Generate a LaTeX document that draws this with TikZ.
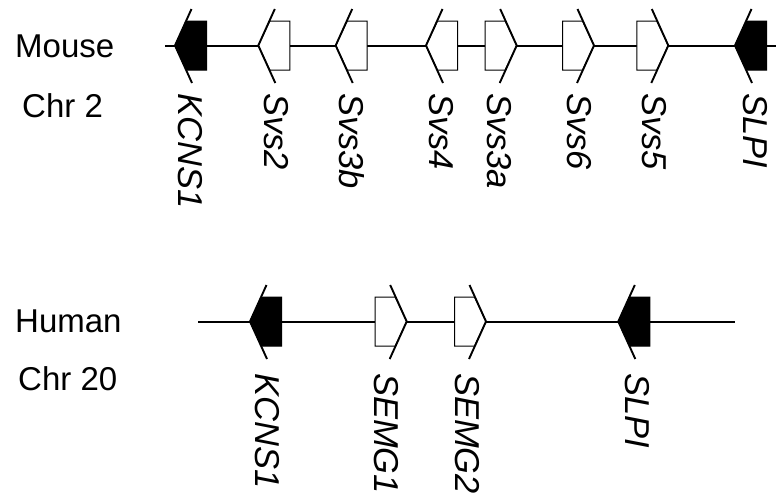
\documentclass[tikz,border=0pt]{standalone}
\usepackage{fontspec}
\setmainfont{Liberation Sans}
\newcommand\GeneL[4]{% name, tip x, centre y, fill
  \filldraw[genebox, fill=#4] (#2,#3) -- (#2+11.5,#3-24.5) -- (#2+31.5,#3-24.5) -- (#2+31.5,#3+24.5) -- (#2+11.5,#3+24.5) -- cycle;
  \draw[slash] (#2+16.5,#3-36.5) -- (#2,#3) -- (#2+17,#3+37.5);
  \coordinate (#1) at (#2+15.75,#3);
}
\newcommand\GeneR[4]{% name, tip x, centre y, fill
  \filldraw[genebox, fill=#4] (#2,#3) -- (#2-11.5,#3-24.5) -- (#2-31.5,#3-24.5) -- (#2-31.5,#3+24.5) -- (#2-11.5,#3+24.5) -- cycle;
  \draw[slash] (#2-16.5,#3-36.5) -- (#2,#3) -- (#2-17,#3+37.5);
  \coordinate (#1) at (#2-15.75,#3);
}
\begin{document}
\begin{tikzpicture}[x=1pt,y=-1pt,
  chrom/.style={line width=2pt},
  slash/.style={line width=1.9pt},
  genebox/.style={draw=black,line width=1pt},
  species/.style={inner sep=0pt,anchor=base west,font=\fontsize{33}{40}\selectfont},
  genelabel/.style={inner sep=0pt,anchor=base west,rotate=-90,font=\fontsize{34.5}{40}\selectfont\itshape}]
\useasboundingbox (0,0) rectangle (776,493);
% species labels
\node[species] (mouse) at (15,57) {Mouse};
\node[species] (chr2) at (22,117) {Chr 2};
\node[species] (human) at (15,332) {Human};
\node[species] (chr20) at (18,390.5) {Chr 20};
% mouse chromosome
\coordinate (mL) at (165,45.5);
\coordinate (mR) at (776,45.5);
\draw[chrom] (mL) -- (mR);
\GeneL{mKCNS1}{175}{45.5}{black}
\GeneL{mSvs2}{258.3}{45.5}{white}
\GeneL{mSvs3b}{335.7}{45.5}{white}
\GeneL{mSvs4}{426}{45.5}{white}
\GeneR{mSvs3a}{516.7}{45.5}{white}
\GeneR{mSvs6}{594}{45.5}{white}
\GeneR{mSvs5}{668.3}{45.5}{white}
\GeneL{mSLPI}{735}{45.5}{black}
\node[genelabel] (lKCNS1) at (178,93) {KCNS1};
\node[genelabel] (lSvs2) at (264.5,93) {Svs2};
\node[genelabel] (lSvs3b) at (339.5,93) {Svs3b};
\node[genelabel] (lSvs4) at (429.5,93) {Svs4};
\node[genelabel] (lSvs3a) at (487.5,93) {Svs3a};
\node[genelabel] (lSvs6) at (567.5,93) {Svs6};
\node[genelabel] (lSvs5) at (642.5,93) {Svs5};
\node[genelabel] (lSLPI) at (743.5,93) {SLPI};
% human chromosome
\coordinate (hL) at (198.3,321.7);
\coordinate (hR) at (735,321.7);
\draw[chrom] (hL) -- (hR);
\GeneL{hKCNS1}{250}{321.5}{black}
\GeneR{hSEMG1}{406.7}{321.5}{white}
\GeneR{hSEMG2}{486}{321.5}{white}
\GeneL{hSLPI}{618.3}{321.5}{black}
\node[genelabel] (lhKCNS1) at (255.5,373) {KCNS1};
\node[genelabel] (lSEMG1) at (374.5,373) {SEMG1};
\node[genelabel] (lSEMG2) at (455,373) {SEMG2};
\node[genelabel] (lhSLPI) at (625,373) {SLPI};
\end{tikzpicture}
\end{document}
